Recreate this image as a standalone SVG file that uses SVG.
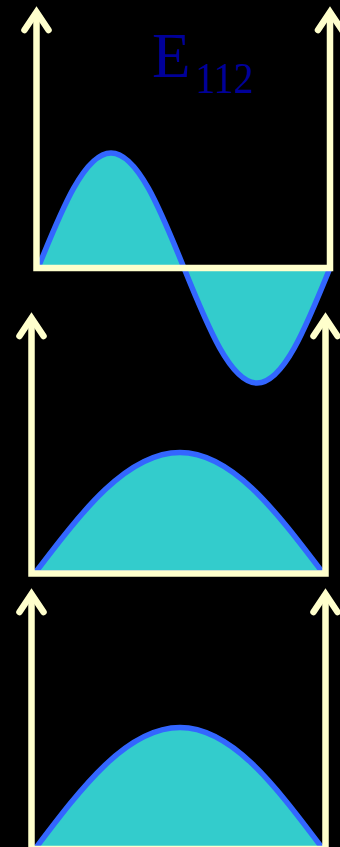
<svg xmlns="http://www.w3.org/2000/svg" xmlns:xlink="http://www.w3.org/1999/xlink" width="340" height="847" viewBox="0 0 340 847">
<style>
.wave{fill:#33CCCC;stroke:#3366FF;stroke-width:5.5;stroke-linejoin:round}
.axis{fill:none;stroke:#FFFFCC;stroke-width:6.5;stroke-linejoin:miter}
.head{fill:none;stroke:#FFFFCC;stroke-width:6.5;stroke-linecap:round;stroke-linejoin:miter;stroke-miterlimit:10}
.lbl{font-family:"Liberation Serif","Times New Roman",serif;fill:#000099}
</style>
<defs>
<path id="ah" d="M-12,18 L0,0 L12,18"/>
</defs>
<rect x="0" y="0" width="340" height="847" fill="#000000"/>
<g id="panel-top">
<path class="wave" d="M38,268 C61.8,209.1 84.6,153 111,153 C137.4,153 160.2,209.1 184,268 C207.8,326.9 230.6,383 257,383 C283.4,383 306.2,326.9 330,268 Z"/>
</g>
<g id="panel-middle">
<path class="wave" d="M35,573 C82,511.3 126.9,452.5 180,452.5 C232.1,452.5 276,511.3 323,573 Z"/>
</g>
<g id="panel-bottom">
<path class="wave" d="M35,849 C82,786.8 126.9,727.5 180,727.5 C232.1,727.5 276,786.8 323,849 Z"/>
</g>
<g id="connectors">
<path class="axis" d="M36.5,12 V268 H330 V12"/>
<path class="axis" d="M31.5,318 V573.5 H325.5 V318"/>
<path class="axis" d="M31.5,594 V849 H325.5 V594"/>
<use class="head" xlink:href="#ah" href="#ah" transform="translate(36.5,12)"/>
<use class="head" xlink:href="#ah" href="#ah" transform="translate(330,12)"/>
<use class="head" xlink:href="#ah" href="#ah" transform="translate(31.5,318)"/>
<use class="head" xlink:href="#ah" href="#ah" transform="translate(325.5,318)"/>
<use class="head" xlink:href="#ah" href="#ah" transform="translate(31.5,594)"/>
<use class="head" xlink:href="#ah" href="#ah" transform="translate(325.5,594)"/>
</g>
<g id="label">
<text class="lbl" x="152" y="77" font-size="63">E<tspan font-size="44" dx="5" y="93" textLength="58" lengthAdjust="spacingAndGlyphs">112</tspan></text>
</g>
</svg>
